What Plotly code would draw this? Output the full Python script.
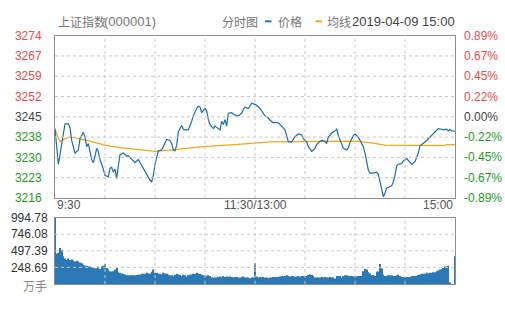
import plotly.graph_objects as go

# ---------------- data ----------------
prev_close = 3244.81
half_range = 28.95

price_minutes = [0, 2, 3, 6, 8, 9, 10, 11, 12, 14, 15, 17, 18, 19, 20, 22, 23, 24, 25, 26, 27, 29, 30, 32, 33,
                 34, 35, 36, 37, 38, 39, 41, 43, 44, 46, 48, 50, 51, 53, 55, 57, 58, 59, 60, 61, 62, 64, 66, 67,
                 69, 70, 71, 72, 73, 74, 76, 77, 78, 80, 82, 83, 85, 86, 87, 88, 90, 91, 92, 93, 94, 95, 96, 98,
                 99, 100, 101, 102, 103, 104, 106, 107, 109, 110, 112, 113, 114, 116, 117, 118, 120, 121, 123,
                 125, 126, 128, 129, 131, 132, 134, 136, 138, 139, 140, 142, 144, 146, 148, 149, 151, 152, 154,
                 156, 157, 159, 160, 162, 163, 164, 166, 168, 169, 170, 172, 173, 175, 176, 177, 179, 180, 182,
                 183, 185, 186, 187, 188, 189, 191, 193, 194, 195, 196, 197, 198, 199, 201, 202, 203, 204, 205,
                 206, 208, 209, 211, 212, 213, 214, 216, 217, 218, 219, 221, 222, 224, 226, 228, 229, 230, 232,
                 233, 235, 236, 237, 238, 240]
price_values = [3240.62, 3227.88, 3231.29, 3242.32, 3242.32, 3240.96, 3236.40, 3234.15, 3231.87, 3232.99,
                3236.98, 3239.26, 3237.56, 3234.15, 3235.27, 3229.59, 3228.46, 3230.74, 3233.57, 3232.45,
                3229.59, 3226.18, 3223.93, 3223.35, 3226.52, 3226.76, 3225.06, 3226.18, 3222.77, 3227.34,
                3231.29, 3231.87, 3230.74, 3230.95, 3229.59, 3228.46, 3229.59, 3228.46, 3226.18, 3223.93,
                3222.23, 3221.65, 3223.93, 3227.88, 3230.74, 3232.65, 3232.99, 3235.27, 3236.74, 3236.40,
                3235.27, 3232.99, 3232.65, 3234.69, 3239.46, 3241.74, 3240.38, 3240.14, 3240.14, 3243.21,
                3245.15, 3247.77, 3248.56, 3248.32, 3246.27, 3247.77, 3246.96, 3243.79, 3242.09, 3241.30,
                3240.62, 3241.51, 3240.62, 3240.14, 3243.21, 3242.09, 3243.79, 3241.51, 3246.07, 3246.27,
                3245.83, 3245.15, 3245.15, 3246.07, 3247.43, 3248.32, 3247.77, 3248.90, 3249.68, 3249.24,
                3248.90, 3247.77, 3246.27, 3245.15, 3244.37, 3243.55, 3242.66, 3242.87, 3242.66, 3241.51,
                3240.14, 3238.10, 3235.85, 3235.85, 3237.76, 3238.68, 3238.44, 3236.98, 3235.85, 3234.15,
                3232.45, 3233.57, 3234.93, 3236.06, 3236.40, 3236.06, 3235.27, 3237.56, 3239.02, 3239.80,
                3240.38, 3238.10, 3235.27, 3233.57, 3232.99, 3233.81, 3235.61, 3238.10, 3238.68, 3237.56,
                3236.40, 3234.15, 3231.87, 3228.46, 3225.84, 3224.71, 3224.71, 3225.06, 3224.27, 3221.65,
                3218.24, 3216.30, 3217.66, 3219.37, 3219.95, 3220.18, 3221.65, 3223.93, 3227.34, 3227.88,
                3228.12, 3229.04, 3229.93, 3229.24, 3228.46, 3227.88, 3228.80, 3230.16, 3231.87, 3234.49,
                3235.27, 3235.85, 3236.98, 3238.10, 3239.46, 3240.14, 3240.62, 3240.38, 3240.14, 3240.38,
                3239.80, 3240.38, 3239.80, 3239.66]

avg_minutes = [0, 3, 6, 9, 18, 30, 39, 48, 60, 70, 89, 108, 120, 129, 180, 189, 198, 218, 233, 235, 240]
avg_values = [3240.3, 3235.9, 3237.0, 3237.6, 3236.6, 3234.7, 3233.8, 3233.3, 3232.5, 3233.0, 3234.2,
              3234.9, 3235.6, 3235.9, 3236.1, 3235.6, 3234.7, 3234.5, 3234.5, 3234.9, 3234.9]

volume = [994.78, 454, 464, 540, 512, 416, 383, 359, 383, 359, 368, 349, 335, 349, 335, 320, 311, 287, 277, 273,
          263, 263, 253, 239, 234, 234, 263, 225, 263, 273, 301, 239, 215, 191, 186, 191, 215, 244, 177, 167,
          158, 153, 143, 129, 129, 129, 129, 129, 129, 134, 139, 143, 153, 153, 153, 167, 158, 158, 182, 215,
          167, 167, 153, 153, 143, 167, 158, 153, 139, 129, 129, 120, 139, 153, 143, 134, 120, 139, 129, 110,
          129, 143, 143, 153, 153, 167, 158, 148, 139, 129, 129, 120, 129, 120, 96, 96, 96, 96, 105, 110,
          96, 120, 105, 110, 105, 110, 105, 96, 105, 105, 96, 96, 105, 110, 96, 96, 96, 86, 96, 96,
          311,
          110, 96, 105, 96, 105, 96, 96, 86, 96, 96, 105, 105, 105, 105, 110, 120, 110, 120, 129, 120,
          110, 120, 120, 105, 110, 120, 110, 120, 120, 120, 120, 134, 143, 134, 120, 96, 96, 96, 96, 105,
          96, 105, 96, 96, 105, 96, 96, 81, 120, 120, 120, 96, 120, 129, 129, 120, 120, 120, 110, 120,
          110, 120, 120, 120, 191, 225, 215, 177, 158, 129, 134, 120, 182, 187, 301, 230, 143, 120, 120, 129,
          129, 129, 120, 120, 129, 139, 120, 105, 105, 105, 105, 105, 105, 120, 120, 120, 120, 134, 143, 153,
          153, 153, 167, 158, 167, 167, 177, 177, 191, 201, 215, 225, 239, 263, 263, 273, 20, 0, 0, 416]

price_tick_text = ["3274", "3267", "3259", "3252", "3245", "3238", "3230", "3223", "3216"]
pct_tick_text = ["0.89%", "0.67%", "0.45%", "0.22%", "0.00%", "-0.22%", "-0.45%", "-0.67%", "-0.89%"]
vol_tick_text = ["994.78", "746.08", "497.39", "248.69"]
vol_unit = "万手"
time_labels = ["9:30", "11:30/13:00", "15:00"]
time_positions = [0, 120, 240]
grid_minutes = [30, 60, 90, 120, 150, 180, 210]

# ---------------- styling ----------------
W, H = 505, 310
RED, GREEN, MID = "#f24b4b", "#1f9c1f", "#444444"
PRICE_C, AVG_C, BAR_C = "#1f6dab", "#f5a70f", "#2a78b5"
GRID_C, BORDER_C = "#c8c8c8", "#8f8f8f"
LATIN = "Liberation Sans, Arial, sans-serif"
CJK = "Noto Sans CJK SC, sans-serif"


def px_x(p):
    return p / W


def px_y(p):
    return (H - p) / H


def color_for(k):
    return RED if k > 0 else (GREEN if k < 0 else MID)


ks = [4, 3, 2, 1, 0, -1, -2, -3, -4]
price_tickvals = [prev_close + half_range * k / 4 for k in ks]
vmax = max(volume)
vol_tickvals = [vmax * k / 4 for k in [4, 3, 2, 1]]

fig = go.Figure()
fig.add_trace(go.Scatter(x=avg_minutes, y=avg_values, mode="lines",
                         line=dict(color=AVG_C, width=1.2), xaxis="x", yaxis="y", hoverinfo="skip"))
fig.add_trace(go.Scatter(x=price_minutes, y=price_values, mode="lines",
                         line=dict(color=PRICE_C, width=1.2), xaxis="x", yaxis="y"))
fig.add_trace(go.Bar(x=list(range(len(volume))), y=volume, marker=dict(color=BAR_C, line=dict(width=0)),
                     xaxis="x2", yaxis="y3"))

x_dom = [px_x(55), px_x(455)]
axis_common = dict(showline=True, mirror=True, linecolor=BORDER_C, linewidth=1, zeroline=False,
                   showgrid=False)

fig.update_layout(
    width=W, height=H, margin=dict(l=0, r=0, t=0, b=0),
    paper_bgcolor="white", plot_bgcolor="rgba(0,0,0,0)", showlegend=False, bargap=0.4,
    font=dict(family=LATIN, size=12, color=MID),
    xaxis=dict(domain=x_dom, range=[0, 240], showticklabels=False, ticks="", anchor="y", **axis_common),
    yaxis=dict(domain=[px_y(200), px_y(30)], range=[prev_close - half_range, prev_close + half_range],
               tickvals=price_tickvals,
               ticktext=[f"<span style='color:{color_for(k)}'>{t}</span>" for t, k in zip(price_tick_text, ks)],
               ticks="", ticklabelstandoff=10, anchor="x", **axis_common),
    xaxis2=dict(domain=x_dom, range=[0, 240], showticklabels=False, ticks="", anchor="y3", **axis_common),
    yaxis3=dict(domain=[px_y(290), px_y(220.7)], range=[0, vmax], tickvals=vol_tickvals,
                ticktext=[f"<span style='color:#333'>{t}</span>" for t in vol_tick_text],
                ticks="", ticklabelstandoff=4, anchor="x2", **axis_common),
)

# dashed grid
grid_line = dict(color=GRID_C, width=1, dash="3px,3px")
for v in price_tickvals[1:-1]:
    fig.add_shape(type="line", xref="x domain", yref="y", x0=0, x1=1, y0=v, y1=v, line=grid_line,
                  layer="above")
for v in vol_tickvals[1:]:
    fig.add_shape(type="line", xref="x2 domain", yref="y3", x0=0, x1=1, y0=v, y1=v, line=grid_line,
                  layer="above")
for m in grid_minutes:
    fig.add_shape(type="line", xref="x", yref="y domain", x0=m, x1=m, y0=0, y1=1, line=grid_line,
                  layer="above")
    fig.add_shape(type="line", xref="x2", yref="y3 domain", x0=m, x1=m, y0=0, y1=1, line=grid_line,
                  layer="above")

# percent labels on the right, at the price grid levels
for val, txt, k in zip(price_tickvals, pct_tick_text, ks):
    fig.add_annotation(x=px_x(462), y=val, xref="paper", yref="y", text=txt, showarrow=False,
                       xanchor="left", yanchor="middle", font=dict(family=LATIN, size=12, color=color_for(k)))

# unit label under the volume axis
fig.add_annotation(x=px_x(49), y=px_y(292), xref="paper", yref="paper", text=vol_unit, showarrow=False,
                   xanchor="right", yanchor="middle", font=dict(family=CJK, size=12, color="#888"))

# time labels under the price panel
anchors = ["left", "center", "right"]
for lbl, pos, anc in zip(time_labels, time_positions, anchors):
    fig.add_annotation(x=pos, y=px_y(207), xref="x", yref="paper", text=lbl, showarrow=False,
                       xanchor=anc, yanchor="middle", font=dict(family=LATIN, size=12, color="#555"))

# header
hy = px_y(15)
head = [
    (56, "上证指数", CJK, 12, "#777"),
    (102, "(000001)", LATIN, 13, "#777"),
    (220, "分时图", CJK, 12, "#777"),
    (276, "价格", CJK, 12, "#777"),
    (325, "均线", CJK, 12, "#777"),
    (350, "2019-04-09 15:00", LATIN, 13, "#444"),
]
for xp, txt, fam, sz, col in head:
    fig.add_annotation(x=px_x(xp), y=hy, xref="paper", yref="paper", text=txt, showarrow=False,
                       xanchor="left", yanchor="middle", font=dict(family=fam, size=sz, color=col))

for x0, col in [(265, PRICE_C), (315.5, AVG_C)]:
    fig.add_shape(type="rect", xref="paper", yref="paper", x0=px_x(x0), x1=px_x(x0 + 6.5),
                  y0=px_y(16), y1=px_y(14), fillcolor=col, line=dict(width=0))

fig.write_html("out.html")
